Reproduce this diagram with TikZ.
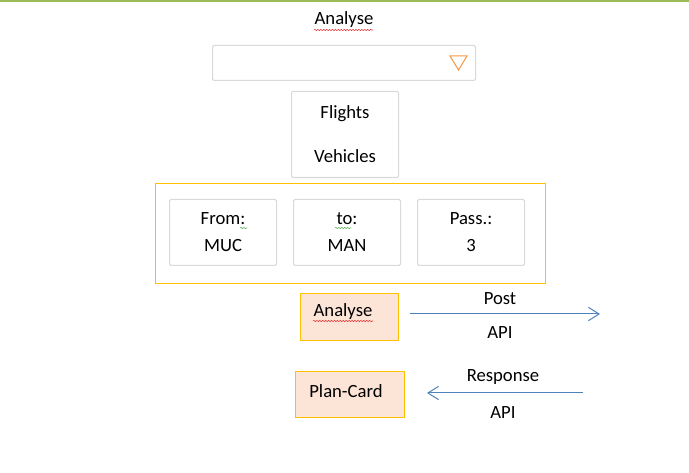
\documentclass[tikz,border=0pt]{standalone}
\usepackage{fontspec}
\setmainfont{Carlito}
\usetikzlibrary{arrows.meta}
\usetikzlibrary{decorations.pathmorphing}
\definecolor{framegrey}{RGB}{217,217,217}
\definecolor{dropOrange}{RGB}{247,150,70}
\definecolor{btnFill}{RGB}{252,228,214}
\definecolor{btnFrame}{RGB}{255,192,0}
\definecolor{linkBlue}{RGB}{79,129,189}
\definecolor{topGreen}{RGB}{155,187,89}
\definecolor{spellRed}{RGB}{230,40,40}
\definecolor{spellGreen}{RGB}{80,170,80}

\begin{document}
\begin{tikzpicture}[x=0.75pt, y=-0.75pt,
    every node/.style={font=\fontsize{14}{17}\selectfont, inner sep=0pt},
    greybox/.style={draw=framegrey, line width=0.75pt, rounded corners=1pt, anchor=north west, align=center},
    btnbox/.style={draw=btnFrame, fill=btnFill, line width=0.75pt, anchor=north west},
    link/.style={draw=linkBlue, line width=0.75pt, -{Straight Barb[length=8pt,width=10pt]}},
    spell/.style={decorate, decoration={snake, amplitude=0.45pt, segment length=2.2pt}, line width=0.4pt}]
    \useasboundingbox (0,0) rectangle (689,473);
    \fill[topGreen] (0,0) rectangle (689,2);

    % title and drop-down
    \node (title) at (344,20) {Analyse};
    \draw[spellRed, spell] (314,30) -- (373,30);
    \node[greybox, minimum width=197.25pt, minimum height=26.25pt] (drop) at (212,45) {};
    \draw[dropOrange, line width=0.75pt, line join=miter] (450,56) -- (467,56) -- (458.5,70) -- cycle;

    % choice list
    \node[greybox, minimum width=80.25pt, minimum height=64.5pt, font=\fontsize{14}{33}\selectfont] (choice) at (291,91) {Flights\\Vehicles};

    % search fields
    \node[draw=btnFrame, line width=0.75pt, anchor=north west, minimum width=292.5pt, minimum height=75pt] (fields) at (155,183) {};
    \node[greybox, minimum width=80.25pt, minimum height=49.5pt, font=\fontsize{14}{20.25}\selectfont] (fromBox) at (169,199) {From:\\MUC};
    \node[greybox, minimum width=80.25pt, minimum height=49.5pt, font=\fontsize{14}{20.25}\selectfont] (toBox) at (293,199) {to:\\MAN};
    \node[greybox, minimum width=80.25pt, minimum height=49.5pt, font=\fontsize{14}{20.25}\selectfont] (passBox) at (417,199) {Pass.:\\3};
    \draw[spellGreen, spell] (240,228) -- (247,228);
    \draw[spellGreen, spell] (335,228) -- (351,228);

    % buttons
    \node[btnbox, minimum width=73.5pt, minimum height=35.25pt] (analyseBtn) at (300,293) {};
    \node (analyseTxt) at (343,312) {Analyse};
    \draw[spellRed, spell] (313,321) -- (373,321);
    \node[btnbox, minimum width=81.75pt, minimum height=34.5pt] (planBtn) at (295,371) {};
    \node (planTxt) at (346,391) {Plan-Card};

    % api calls
    \coordinate (postStart) at (410,314);
    \coordinate (postEnd) at (600,314);
    \draw[link] (postStart) -- (postEnd);
    \node (postLbl) at (500,299) {Post};
    \node (postApi) at (500,333) {API};
    \coordinate (respStart) at (583,393);
    \coordinate (respEnd) at (427,393);
    \draw[link] (respStart) -- (respEnd);
    \node (respLbl) at (503,377) {Response};
    \node (respApi) at (503,413) {API};
\end{tikzpicture}
\end{document}
